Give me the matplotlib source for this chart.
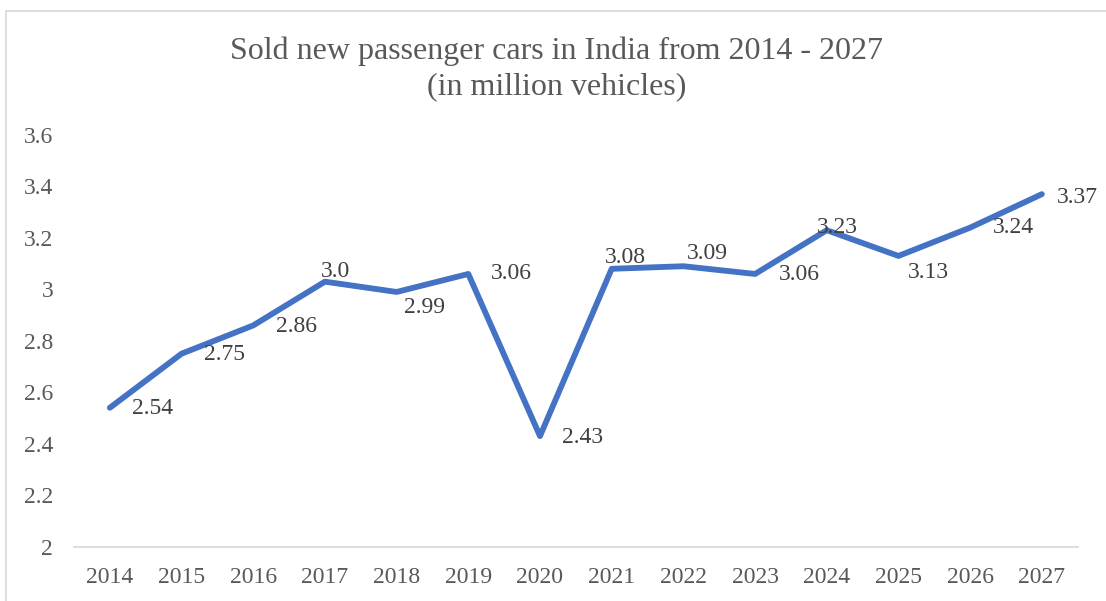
import matplotlib
matplotlib.use('Agg')
import matplotlib.pyplot as plt
from matplotlib.patches import Rectangle
from matplotlib.ticker import FuncFormatter

plt.rcParams['font.family'] = ['Liberation Serif', 'DejaVu Serif']

# data
years = ['2014', '2015', '2016', '2017', '2018', '2019', '2020',
         '2021', '2022', '2023', '2024', '2025', '2026', '2027']
cars = [2.54, 2.75, 2.86, 3.03, 2.99, 3.06, 2.43,
        3.08, 3.09, 3.06, 3.23, 3.13, 3.24, 3.37]
labels = ['2.54', '2.75', '2.86', '3.0', '2.99', '3.06', '2.43',
          '3.08', '3.09', '3.06', '3.23', '3.13', '3.24', '3.37']
# label offsets (pixels, label centre relative to point)
lab_dx = [43, 43, 43, 11, 28, 43, 43, 14, 24, 44, 11, 30, 43, 36]
lab_dy = [-1, -1, -1, 10, -16, 0, -1, 11, 13, -1, 3, -17, 0, -3]

BLUE = '#4472C4'
GRAY = '#595959'
DARK = '#404040'

fig = plt.figure(figsize=(11.06, 6.01), dpi=100)
ax = fig.add_axes([0.0669, 0.0903, 0.9075, 0.6851])

x = list(range(len(years)))
ax.plot(x, cars, color=BLUE, linewidth=4.2, solid_capstyle='round', solid_joinstyle='round')

for i, (v, t) in enumerate(zip(cars, labels)):
    ax.annotate(t, (i, v), xytext=(lab_dx[i], lab_dy[i]), textcoords='offset pixels',
                ha='center', va='center', fontsize=17, color=DARK)

ax.set_xlim(-0.5, len(years) - 0.5)
ax.set_ylim(2, 3.6)
ax.set_xticks(x)
ax.set_xticklabels(years)
ax.set_yticks([2, 2.2, 2.4, 2.6, 2.8, 3, 3.2, 3.4, 3.6])
ax.yaxis.set_major_formatter(FuncFormatter(lambda v, p: f'{v:g}'))
ax.tick_params(axis='both', length=0, labelsize=17, labelcolor=GRAY)
ax.tick_params(axis='y', pad=15)
ax.tick_params(axis='x', pad=14.5)

for s in ['top', 'right', 'left']:
    ax.spines[s].set_visible(False)
ax.spines['bottom'].set_color('#D9D9D9')
ax.spines['bottom'].set_linewidth(1.2)

fig.text(0.503, 0.885, 'Sold new passenger cars in India from 2014 - 2027\n(in million vehicles)',
         ha='center', va='center', fontsize=23, color=GRAY, linespacing=1.3)

# chart border
fig.patches.append(Rectangle((6 / 1106, -0.1), 1.2, (601 - 10.5) / 601 + 0.1,
                             transform=fig.transFigure, fill=False,
                             edgecolor='#D9D9D9', linewidth=1.2))

fig.savefig('out.png', dpi=100)
